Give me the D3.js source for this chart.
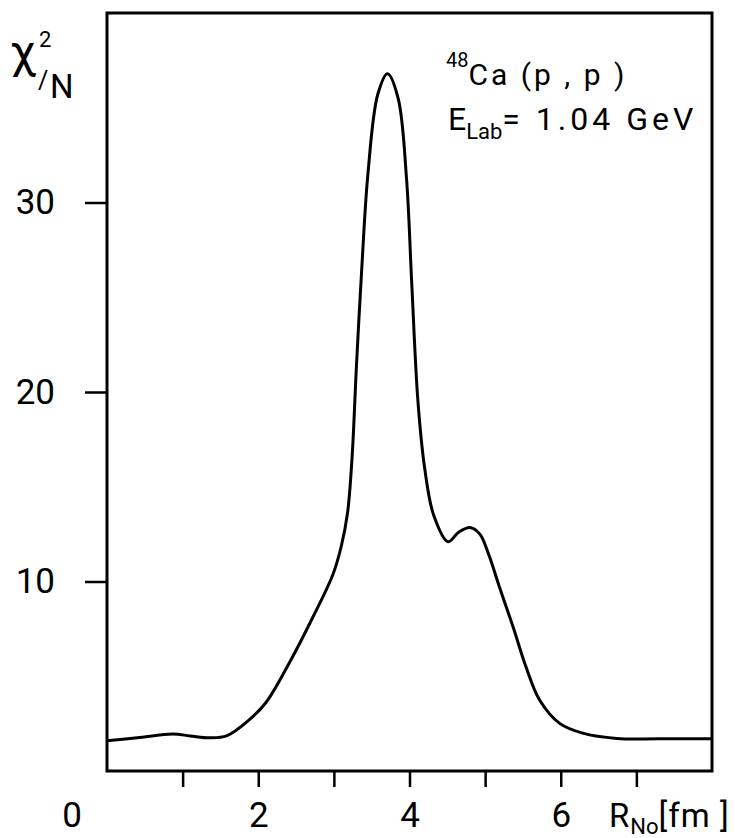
<!DOCTYPE html>
<html>
<head>
<meta charset="utf-8">
<script src="https://cdn.jsdelivr.net/npm/d3@7"></script>
<style>
  html, body { margin: 0; padding: 0; background: #fff; }
  svg { display: block; }
  svg text { font-family: Roboto, 'Liberation Sans', sans-serif; fill: #000; }
</style>
</head>
<body>
<div id="chart"></div>
<script>
// R_No [fm] and chi^2/N
const rNo = [0.0, 0.4, 0.87, 1.1, 1.36, 1.58, 1.88, 2.1, 2.41, 2.72, 2.99, 3.1, 3.18, 3.24, 3.3, 3.37, 3.45, 3.58, 3.71,
             3.85, 3.96, 4.03, 4.11, 4.2, 4.32, 4.51, 4.65, 4.8, 4.93, 5.05, 5.19, 5.37, 5.54, 5.72, 5.99, 6.29, 6.74, 7.3, 8.0]
const chi2 = [1.6, 1.75, 1.95, 1.85, 1.75, 1.85, 2.7, 3.6, 5.7, 8.1, 10.4, 11.9, 13.6, 16.5, 21.5, 26.6, 31.5, 35.7, 36.8,
              35.5, 31.3, 25.7, 19.6, 16.0, 13.5, 12.1, 12.6, 12.85, 12.5, 11.4, 9.7, 7.6, 5.5, 3.75, 2.5, 2.0, 1.72, 1.7, 1.7]

const xTicks = [1, 2, 3, 4, 5, 6, 7]
const xTickLabels = ['', '2', '', '4', '', '6', '']
const yTicks = [10, 20, 30]

const width = 735, height = 838
const margin = { top: 13, right: 23, bottom: 67, left: 107 }

const svg = d3.select('#chart')
  .append('svg')
    .attr('width', width)
    .attr('height', height)

const x = d3.scaleLinear().domain([0, 8]).range([margin.left, width - margin.right])
const y = d3.scaleLinear().domain([0, 40]).range([height - margin.bottom, margin.top])

// x axis: ticks hang below the frame
const gx = svg.append('g')
    .attr('transform', `translate(0,${y(0)})`)
    .call(d3.axisBottom(x)
            .tickValues(xTicks)
            .tickSize(16)
            .tickPadding(15)
            .tickFormat((d, i) => xTickLabels[i]))
gx.select('.domain').remove()

// y axis: ticks stick out to the left
const gy = svg.append('g')
    .attr('transform', `translate(${x(0)},0)`)
    .call(d3.axisLeft(y)
            .tickValues(yTicks)
            .tickSize(22)
            .tickPadding(30))
gy.select('.domain').remove()

svg.selectAll('.tick line')
    .attr('stroke', '#000')
    .attr('stroke-width', 2.5)
svg.selectAll('.tick text')
    .style('font-size', '35px')

// "0" sits at the corner, left of the frame
svg.append('text')
    .attr('x', x(0) - 35)
    .attr('y', 827)
    .attr('text-anchor', 'middle')
    .style('font-size', '35px')
    .text('0')

// frame
svg.append('rect')
    .attr('x', x(0))
    .attr('y', y(40))
    .attr('width', x(8) - x(0))
    .attr('height', y(0) - y(40))
    .attr('fill', 'none')
    .attr('stroke', '#000')
    .attr('stroke-width', 3)

const line = d3.line()
    .x((d, i) => x(rNo[i]))
    .y(d => y(d))
    .curve(d3.curveCatmullRom.alpha(0.5))

svg.append('path')
    .datum(chi2)
    .attr('d', line)
    .attr('fill', 'none')
    .attr('stroke', '#000')
    .attr('stroke-width', 3)

// y label  chi^2 / N
svg.append('text').attr('x', 10).attr('y', 68).style('font-size', '47px').text('χ')
svg.append('text').attr('x', 39).attr('y', 47).style('font-size', '22px').text('2')
svg.append('text').attr('x', 38).attr('y', 89).style('font-size', '25px').text('/')
svg.append('text').attr('x', 50).attr('y', 98).style('font-size', '33px').text('N')

// x label  R_No [fm]
const xlab = svg.append('text').attr('x', 609).attr('y', 827).style('font-size', '33px').style('letter-spacing', '1px')
xlab.append('tspan').text('R')
xlab.append('tspan').attr('dy', 7).style('font-size', '22px').style('letter-spacing', '0px').text('No')
xlab.append('tspan').attr('dy', -7).text('[fm ]')

// reaction label
const t1 = svg.append('text').attr('x', 446).attr('y', 85).style('font-size', '30px').style('letter-spacing', '3px')
t1.append('tspan').attr('dy', -18).style('font-size', '20px').style('letter-spacing', '0px').text('48')
t1.append('tspan').attr('dy', 18).text('Ca (p , p )')

const t2 = svg.append('text').attr('x', 448).attr('y', 130).style('font-size', '32px')
t2.append('tspan').text('E')
t2.append('tspan').attr('dy', 9).style('font-size', '22px').text('Lab')
t2.append('tspan').attr('dy', -9).style('letter-spacing', '4px').text('= 1.04 GeV')
</script>
</body>
</html>
